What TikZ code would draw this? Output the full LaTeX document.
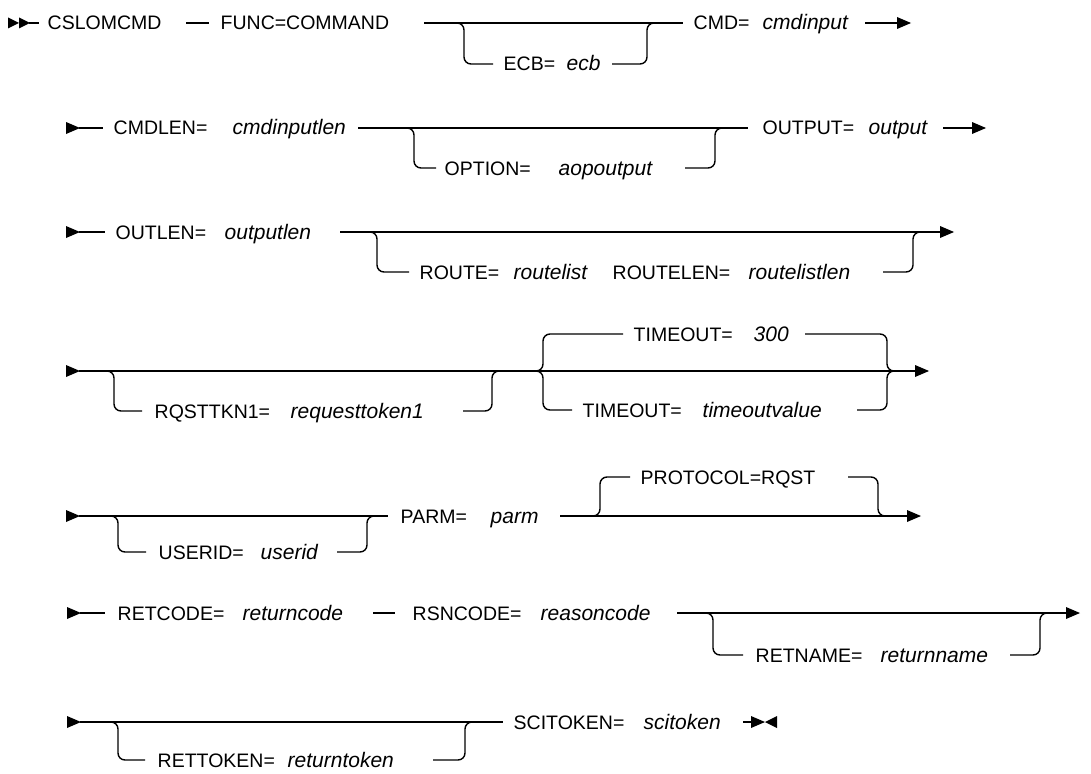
\documentclass[tikz,border=0pt]{standalone}
\usepackage{fontspec}
\setmainfont{Liberation Sans}
\newcommand\railhead[2]{\fill (#1-14,#2-6) -- (#1,#2) -- (#1-14,#2+6) -- cycle;}
\newcommand\railtail[2]{\fill (#1+12,#2-6) -- (#1,#2) -- (#1+12,#2+6) -- cycle;}
\begin{document}
\begin{tikzpicture}[x=1pt,y=-1pt,line width=1.4pt,
  kw/.style={anchor=west,inner sep=0pt,text height=14pt,text depth=0pt,font=\fontsize{19.5}{20}\selectfont},
  var/.style={anchor=west,inner sep=0pt,text height=14pt,text depth=0pt,font=\fontsize{21}{22}\selectfont\itshape},
  rail/.style={line width=1.4pt,rounded corners=7pt}]
\useasboundingbox (0,0) rectangle (1091,773);

% ---------- row 1
\fill (8,17.5) -- (19,23) -- (8,28.5) -- cycle;
\fill (19,17.5) -- (30,23) -- (19,28.5) -- cycle;
\coordinate (s1) at (29,23);
\node[kw] (cslomcmd) at (47,23) {CSLOMCMD};
\draw (s1) -- ([xshift=-8pt]cslomcmd.west);
\node[kw] (func) at (220,23) {FUNC=COMMAND};
\draw ([xshift=-34pt]func.west) -- ([xshift=-11pt]func.west);
\node[kw] (ecbk) at (503,64) {ECB=};
\node[var] (ecbv) at (566,64) {ecb};
\node[kw] (cmdk) at (693,23) {CMD=};
\node[var] (cmdv) at (762,23) {cmdinput};
\draw[rail] (424,23) -- ([xshift=-10pt]cmdk.west);
\draw[rail] (450,23) -- (464,23) -- (464,64) -- ([xshift=-10pt]ecbk.west);
\draw[rail] (612,64) -- (647,64) -- (647,23) -- (660,23);
\draw (865,23) -- (900,23); \railhead{911}{23}

% ---------- row 2
\railhead{80}{128}
\node[kw] (cmdlenk) at (113,128) {CMDLEN=};
\draw (79,128) -- ([xshift=-10pt]cmdlenk.west);
\node[var] (cmdlenv) at (232,128) {cmdinputlen};
\node[kw] (optk) at (444,168) {OPTION=};
\node[var] (optv) at (558,168) {aopoutput};
\node[kw] (outk) at (762,128) {OUTPUT=};
\node[var] (outv) at (868,128) {output};
\draw[rail] (358,128) -- ([xshift=-14pt]outk.west);
\draw[rail] (400,128) -- (414,128) -- (414,168) -- ([xshift=-8pt]optk.west);
\draw[rail] (685,168) -- (715,168) -- (715,128) -- (728,128);
\draw (943,128) -- (975,128); \railhead{986}{128}

% ---------- row 3
\railhead{80}{232}
\node[kw] (outlenk) at (115,232) {OUTLEN=};
\draw (79,232) -- ([xshift=-10pt]outlenk.west);
\node[var] (outlenv) at (224,232) {outputlen};
\node[kw] (routek) at (419,272) {ROUTE=};
\node[var] (routev) at (513,272) {routelist};
\node[kw] (routelenk) at (612,272) {ROUTELEN=};
\node[var] (routelenv) at (748,272) {routelistlen};
\draw[rail] (340,232) -- (942,232); \railhead{954}{232}
\draw[rail] (363,232) -- (377,232) -- (377,272) -- ([xshift=-10pt]routek.west);
\draw[rail] (883,272) -- (913,272) -- (913,232) -- (926,232);

% ---------- row 4
\railhead{80}{371}
\node[kw] (rqstk) at (154,411) {RQSTTKN1=};
\node[var] (rqstv) at (290,411) {requesttoken1};
\node[kw] (tok1) at (633,334) {TIMEOUT=};
\node[var] (tov1) at (753,334) {300};
\node[kw] (tok2) at (582,410) {TIMEOUT=};
\node[var] (tov2) at (702,410) {timeoutvalue};
\draw[rail] (79,371) -- (917,371); \railhead{929}{371}
\draw[rail] (100,371) -- (114,371) -- (114,411) -- ([xshift=-12pt]rqstk.west);
\draw[rail] (463,411) -- (492,411) -- (492,371) -- (505,371);
\draw[rail] (528,371) -- (543,371) -- (543,334) -- ([xshift=-10pt]tok1.west);
\draw[rail] (528,371) -- (543,371) -- (543,410) -- ([xshift=-10pt]tok2.west);
\draw[rail] (805,334) -- (887,334) -- (887,371) -- (900,371);
\draw[rail] (857,410) -- (887,410) -- (887,371) -- (900,371);

% ---------- row 5
\railhead{80}{516}
\node[kw] (useridk) at (158,552) {USERID=};
\node[var] (useridv) at (260,552) {userid};
\node[kw] (parmk) at (400,516) {PARM=};
\node[var] (parmv) at (490,516) {parm};
\node[kw] (protk) at (640,477) {PROTOCOL=RQST};
\draw[rail] (79,516) -- ([xshift=-12pt]parmk.west);
\draw[rail] (104,516) -- (118,516) -- (118,552) -- ([xshift=-12pt]useridk.west);
\draw[rail] (337,552) -- (367,552) -- (367,516) -- (380,516);
\draw[rail] (560,516) -- (909,516); \railhead{921}{516}
\draw[rail] (585,516) -- (600,516) -- (600,477) -- ([xshift=-10pt]protk.west);
\draw[rail] (848,477) -- (878,477) -- (878,516) -- (892,516);

% ---------- row 6
\railhead{81}{613}
\node[kw] (retk) at (117,613) {RETCODE=};
\draw (80,613) -- ([xshift=-12pt]retk.west);
\node[var] (retv) at (242,613) {returncode};
\node[kw] (rsnk) at (412,613) {RSNCODE=};
\draw ([xshift=-39pt]rsnk.west) -- ([xshift=-17pt]rsnk.west);
\node[var] (rsnv) at (540,613) {reasoncode};
\node[kw] (rnamek) at (755,655) {RETNAME=};
\node[var] (rnamev) at (880,655) {returnname};
\draw[rail] (677,613) -- (1068,613); \railhead{1080}{613}
\draw[rail] (699,613) -- (713,613) -- (713,655) -- ([xshift=-12pt]rnamek.west);
\draw[rail] (1010,655) -- (1040,655) -- (1040,613) -- (1053,613);

% ---------- row 7
\railhead{81}{722}
\node[kw] (rtokk) at (157,760) {RETTOKEN=};
\node[var] (rtokv) at (287,760) {returntoken};
\node[kw] (scik) at (513,722) {SCITOKEN=};
\node[var] (sciv) at (643,722) {scitoken};
\draw[rail] (80,722) -- ([xshift=-10pt]scik.west);
\draw[rail] (104,722) -- (118,722) -- (118,760) -- ([xshift=-12pt]rtokk.west);
\draw[rail] (433,760) -- (465,760) -- (465,722) -- (478,722);
\draw (743,722) -- (755,722);
\railhead{765}{722}
\railtail{765}{722}
\end{tikzpicture}
\end{document}
